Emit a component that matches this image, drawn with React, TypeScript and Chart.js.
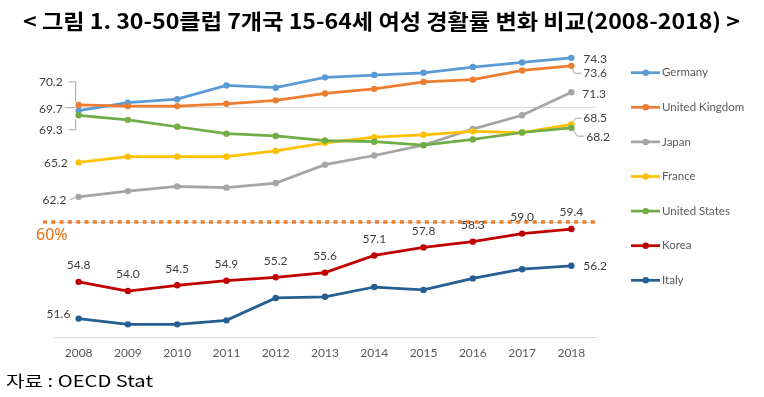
import React, { useEffect, useRef } from "react";
import { Chart, registerables } from "chart.js";

Chart.register(...registerables);

const years = ["2008", "2009", "2010", "2011", "2012", "2013", "2014", "2015", "2016", "2017", "2018"];
const germany = [69.7, 70.4, 70.7, 71.9, 71.7, 72.6, 72.8, 73.0, 73.5, 73.9, 74.3];
const unitedKingdom = [70.2, 70.1, 70.1, 70.3, 70.6, 71.2, 71.6, 72.2, 72.4, 73.2, 73.6];
const japan = [62.2, 62.7, 63.1, 63.0, 63.4, 65.0, 65.8, 66.7, 68.1, 69.3, 71.3];
const france = [65.2, 65.7, 65.7, 65.7, 66.2, 66.9, 67.4, 67.6, 67.9, 67.8, 68.5];
const unitedStates = [69.3, 68.9, 68.3, 67.7, 67.5, 67.1, 67.0, 66.7, 67.2, 67.8, 68.2];
const korea = [54.8, 54.0, 54.5, 54.9, 55.2, 55.6, 57.1, 57.8, 58.3, 59.0, 59.4];
const italy = [51.6, 51.1, 51.1, 51.45, 53.4, 53.5, 54.35, 54.1, 55.1, 55.9, 56.2];
const seriesNames = ["Germany", "United Kingdom", "Japan", "France", "United States", "Korea", "Italy"];
const targetValue = 60;
const targetLabel = "60%";
const titleText = "< 그림 1. 30-50클럽 7개국 15-64세 여성 경활률 변화 비교(2008-2018) >";
const sourceText = "자료 : OECD Stat";

const colors = ["#5B9BD5", "#ED7D31", "#A5A5A5", "#FFC000", "#70AD47", "#C00000", "#255E91"];

type Spec = { i: number; side: "left" | "right" | "above"; dx: number; dy: number; leader?: number[][]; bg?: boolean };
// label placement per dataset (styling only)
const labelSpecs: Spec[][] = [
  [
    { i: 0, side: "left", dx: -16, dy: -2, leader: [[-12, -3], [-3, -3]], bg: true },
    { i: 10, side: "right", dx: 12, dy: 1.7 },
  ],
  [
    { i: 0, side: "left", dx: -16, dy: -23.3, leader: [[-10, -23], [-3, -23], [-3, -3]] },
    { i: 10, side: "right", dx: 12, dy: 7.4, leader: [[1, 2.5], [3, 7.4], [10, 7.4]] },
  ],
  [
    { i: 0, side: "left", dx: -12.3, dy: 3, leader: [[-9, 3], [-3, 0.5]] },
    { i: 10, side: "right", dx: 11, dy: 1.6 },
  ],
  [
    { i: 0, side: "left", dx: -11, dy: 0.6 },
    { i: 10, side: "right", dx: 12, dy: -6.3, leader: [[2, -3], [4, -6.3], [10, -6.3]] },
  ],
  [
    { i: 0, side: "left", dx: -16, dy: 14.7, leader: [[-10, 14.5], [-3, 14.5], [-3, 4]] },
    { i: 10, side: "right", dx: 15, dy: 9, leader: [[2, 2.5], [6, 8.2], [13, 8.2]] },
  ],
  years.map((_, i) => ({ i, side: "above" as const, dx: 0, dy: -16.5 })),
  [
    { i: 0, side: "left", dx: -8.3, dy: -4.5 },
    { i: 10, side: "right", dx: 12, dy: 0.7 },
  ],
];

const decorPlugin = {
  id: "decor",
  beforeDatasetsDraw(chart: any) {
    const ctx = chart.ctx;
    const y = chart.scales.y.getPixelForValue(targetValue);
    ctx.save();
    ctx.strokeStyle = "#ED7D31";
    ctx.lineWidth = 3.5;
    ctx.setLineDash([4, 4.3]);
    ctx.beginPath();
    ctx.moveTo(43, y);
    ctx.lineTo(599, y);
    ctx.stroke();
    ctx.setLineDash([]);
    ctx.fillStyle = "#E46C0A";
    ctx.font = '16px "Noto Sans"';
    ctx.textBaseline = "middle";
    ctx.textAlign = "left";
    ctx.fillText(targetLabel, 36, y + 13.5);
    ctx.restore();
  },
  afterDatasetsDraw(chart: any) {
    const ctx = chart.ctx;
    ctx.save();
    ctx.font = '12px "Lato"';
    ctx.textBaseline = "middle";
    chart.data.datasets.forEach((ds: any, di: number) => {
      const meta = chart.getDatasetMeta(di);
      labelSpecs[di].forEach((s) => {
        const pt = meta.data[s.i];
        const px = pt.x;
        const py = pt.y;
        const txt = Number(ds.data[s.i]).toFixed(1);
        if (s.leader) {
          ctx.strokeStyle = "#A6A6A6";
          ctx.lineWidth = 1;
          ctx.beginPath();
          s.leader.forEach((p, k) => {
            if (k === 0) ctx.moveTo(px + p[0], py + p[1]);
            else ctx.lineTo(px + p[0], py + p[1]);
          });
          ctx.stroke();
        }
        ctx.textAlign = s.side === "left" ? "right" : s.side === "right" ? "left" : "center";
        const tx = px + s.dx;
        const ty = py + s.dy;
        if (s.bg) {
          const w = ctx.measureText(txt).width;
          ctx.fillStyle = "#FFFFFF";
          ctx.fillRect(tx - w - 1, ty - 7, w + 2, 14);
        }
        ctx.fillStyle = "#404040";
        ctx.fillText(txt, tx, ty);
      });
    });
    ctx.restore();
  },
  afterDraw(chart: any) {
    const ctx = chart.ctx;
    ctx.save();
    // title
    ctx.fillStyle = "#000000";
    ctx.font = 'bold 21px "Noto Sans CJK KR"';
    ctx.textBaseline = "alphabetic";
    ctx.textAlign = "left";
    const tw = ctx.measureText(titleText).width;
    const sx = 717 / tw;
    ctx.translate(23, 29);
    ctx.scale(sx, 1);
    ctx.fillText(titleText, 0, 0);
    ctx.setTransform(1, 0, 0, 1, 0, 0);
    // source
    ctx.font = '16px "Noto Sans CJK KR"';
    const sw = ctx.measureText(sourceText).width;
    ctx.translate(6, 387);
    ctx.scale(147 / sw, 1);
    ctx.fillText(sourceText, 0, 0);
    ctx.setTransform(1, 0, 0, 1, 0, 0);
    // legend
    const ly0 = 72.7;
    const lstep = 34.6;
    seriesNames.forEach((name, k) => {
      const yy = ly0 + k * lstep;
      ctx.strokeStyle = colors[k];
      ctx.lineWidth = 2.75;
      ctx.beginPath();
      ctx.moveTo(631, yy);
      ctx.lineTo(660, yy);
      ctx.stroke();
      ctx.fillStyle = colors[k];
      ctx.beginPath();
      ctx.arc(645.7, yy, 3.2, 0, Math.PI * 2);
      ctx.fill();
      ctx.fillStyle = "#595959";
      ctx.font = '11.5px "Lato"';
      ctx.textBaseline = "middle";
      ctx.textAlign = "left";
      ctx.fillText(name, 662, yy);
    });
    ctx.restore();
  },
};

export default function App() {
  const ref = useRef<HTMLCanvasElement>(null);
  useEffect(() => {
    const canvas = ref.current!;
    const allSeries = [germany, unitedKingdom, japan, france, unitedStates, korea, italy];
    const chart = new Chart(canvas, {
      type: "line",
      data: {
        labels: years,
        datasets: allSeries.map((d, i) => ({
          label: seriesNames[i],
          data: d,
          borderColor: colors[i],
          backgroundColor: colors[i],
          borderWidth: 2.75,
          pointRadius: 3.2,
          pointBorderWidth: 0,
          pointBackgroundColor: colors[i],
          tension: 0,
          fill: false,
          order: -i,
        })),
      },
      options: {
        responsive: false,
        animation: false,
        devicePixelRatio: 1,
        layout: { padding: { left: 54, right: 168, top: 38.3, bottom: 27.6 } },
        plugins: { legend: { display: false }, tooltip: { enabled: false }, title: { display: false } },
        scales: {
          x: {
            offset: true,
            grid: { display: false, drawTicks: false },
            border: { display: true, color: "#D9D9D9", width: 1 },
            ticks: { color: "#595959", font: { family: "Lato", size: 12 }, padding: 9 },
          },
          y: {
            min: 50,
            max: 76,
            afterBuildTicks: (axis: any) => {
              axis.ticks = [{ value: 60 }, { value: 70 }];
            },
            grid: { color: "#D9D9D9", lineWidth: 1, drawTicks: false },
            border: { display: false },
            ticks: { display: false },
          },
        },
      },
      plugins: [decorPlugin],
    } as any);
    return () => chart.destroy();
  }, []);
  return (
    <div style={{ position: "fixed", left: 0, top: 0, width: 764, height: 397, background: "#fff" }}>
      <canvas ref={ref} width={764} height={397} style={{ width: 764, height: 397, display: "block" }} />
    </div>
  );
}
